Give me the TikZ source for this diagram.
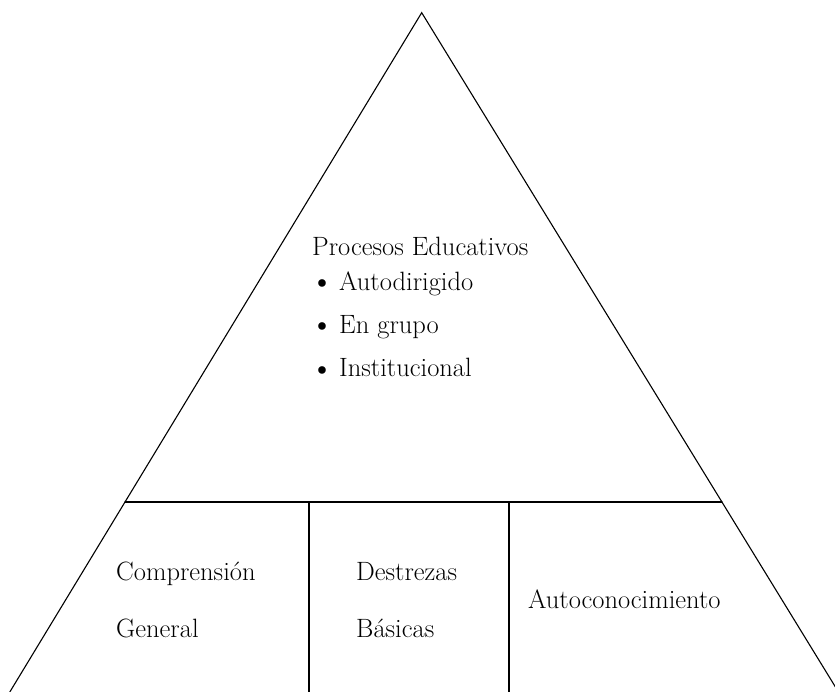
\documentclass[tikz,border=0pt]{standalone}
\usepackage{fontspec}
\begin{document}
\begin{tikzpicture}[x=1pt,y=-1pt,
  edge/.style={line width=1.1pt,line cap=round},
  lbl/.style={anchor=base west,inner sep=0pt,font=\fontsize{26.5}{30}\selectfont},
  bul/.style={anchor=base,inner sep=0pt,font=\fontsize{34}{38}\selectfont}]
\useasboundingbox (0,0) rectangle (835,692);
\coordinate (apex) at (421.7,12.7);
\coordinate (ml) at (125,502);
\coordinate (mr) at (722,502);
\coordinate (bl) at (9.8,692);
\coordinate (br) at (838.5,692);
\coordinate (v1t) at (309,502);
\coordinate (v1b) at (309,692);
\coordinate (v2t) at (509,502);
\coordinate (v2b) at (509,692);
\begin{scope}
\clip (0,0) rectangle (835,692);
\draw[edge] (bl) -- (apex) -- (br);
\end{scope}
\draw[edge] (ml) -- (mr);
\draw[edge] (v1t) -- (v1b);
\draw[edge] (v2t) -- (v2b);
\node[lbl] (pe) at (312,256) {Procesos Educativos};
\node[bul] (b1) at (322,293) {\textbullet};
\node[lbl] (t1) at (339,291) {Autodirigido};
\node[bul] (b2) at (322,336) {\textbullet};
\node[lbl] (t2) at (339,334) {En grupo};
\node[bul] (b3) at (322,379) {\textbullet};
\node[lbl] (t3) at (339,377) {Institucional};
\node[lbl] (c1) at (116,580) {Comprensión};
\node[lbl] (c2) at (116,637) {General};
\node[lbl] (d1) at (356,580) {Destrezas};
\node[lbl] (d2) at (356,637) {Básicas};
\node[lbl] (a1) at (528,608) {Autoconocimiento};
\end{tikzpicture}
\end{document}
